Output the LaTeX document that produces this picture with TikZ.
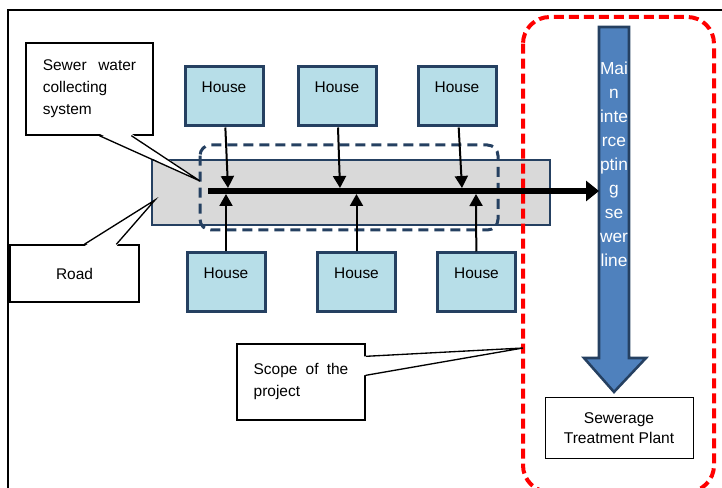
\documentclass[tikz,border=0pt]{standalone}
\usepackage{fontspec}
\setmainfont{Liberation Sans}
\usetikzlibrary{calc,arrows.meta}
\definecolor{houseblue}{HTML}{B7DEE8}
\definecolor{edgeblue}{HTML}{254061}
\definecolor{pipeblue}{HTML}{4F81BD}
\definecolor{roadgray}{HTML}{D9D9D9}

\begin{document}
\begin{tikzpicture}[x=0.75pt,y=-0.75pt,
  house/.style={draw=edgeblue,line width=2.25pt,fill=houseblue,minimum width=58.5pt,minimum height=44.25pt,text height=8pt,text depth=14pt,font=\fontsize{11.6}{13}\selectfont},
  callout/.style={draw,line width=1pt,fill=white,font=\fontsize{11.6}{16.5}\selectfont},
  pipe/.style={line width=1.5pt,-{Triangle[width=9.75pt,length=9pt]}}]
\clip (0,0) rectangle (722,488);

\draw[line width=1.1pt] (8,495) -- (8,10) -- (730,10); % frame

\node[draw=edgeblue,line width=1.9pt,fill=roadgray,minimum width=298.5pt,minimum height=48.75pt] (road) at (351,192.5) {};
\draw[red,line width=3pt,dash pattern=on 7.5pt off 3.75pt,rounded corners=20pt] (523,17) rectangle (714,492); % scope
\draw[edgeblue,line width=2.25pt,dash pattern=on 7.5pt off 4.5pt,rounded corners=8pt] (200,145) rectangle (498,230); % collecting system

\node[house] (ht1) at (224,96.5) {House};
\node[house] (ht2) at (337,96.5) {House};
\node[house] (ht3) at (457,96.5) {House};
\node[house] (hb1) at (226,282.5) {House};
\node[house] (hb2) at (356.5,282.5) {House};
\node[house] (hb3) at (476.5,282.5) {House};

\coordinate (s0) at (208,191);
\coordinate (jt1) at (228,188);
\coordinate (jt2) at (340,188);
\coordinate (jt3) at (462,188);
\coordinate (jb1) at (226,194);
\coordinate (jb2) at (356.5,194);
\coordinate (jb3) at (476,194);

\draw[pipe] (ht1) -- (jt1); % top houses
\draw[pipe] (ht2) -- (jt2);
\draw[pipe] (ht3) -- (jt3);
\draw[pipe] (hb1) -- (jb1); % bottom houses
\draw[pipe] (hb2) -- (jb2);
\draw[pipe] (hb3) -- (jb3);

% main intercepting sewer
\node[minimum width=22.5pt,minimum height=248.25pt,inner sep=0pt,outer sep=0pt] (shaft) at (614,192.5) {};
\draw[edgeblue,line width=1.9pt,fill=pipeblue] (shaft.north west) -- (shaft.south west) -- ++(-15,0) -- ($(shaft.south)+(0,34)$) -- ($(shaft.south east)+(17,0)$) -- (shaft.south east) -- (shaft.north east) -- cycle;
\node[text=white,align=center,font=\fontsize{13}{18}\selectfont] (mainlbl) at (614,164) {Mai\\n\\inte\\rce\\ptin\\g\\se\\wer\\line};

\draw[line width=4.5pt,-{Triangle[width=15pt,length=9.75pt]}] (s0) -- (s0 -| shaft.west);

\node[draw,line width=0.75pt,fill=white,minimum width=111pt,minimum height=45.75pt,align=center,font=\fontsize{11.7}{15}\selectfont] (stp) at (619,428.5) {Sewerage\\Treatment Plant};

% callouts
\coordinate (sewtip) at (200,181);
\coordinate (roadtip) at (155,200);
\coordinate (scopetip) at (523,348);

\node[callout,minimum width=95.25pt,minimum height=69pt,text width=70pt,align=left] (sewer) at (89.5,89) {Sewer\hfill water\\collecting\\system};
\fill[white] ($(sewer.south west)+(74,-2)$) -- (sewtip) -- ($(sewer.south west)+(106,-2)$) -- cycle;
\draw[line width=1pt] ($(sewer.south west)+(74,0)$) -- (sewtip) -- ($(sewer.south west)+(106,0)$);

\node[callout,minimum width=96.75pt,minimum height=42.75pt] (roadlbl) at (74.5,273.5) {Road};
\fill[white] ($(roadlbl.north west)+(75,2)$) -- (roadtip) -- ($(roadlbl.north west)+(107,2)$) -- cycle;
\draw[line width=1pt] ($(roadlbl.north west)+(75,0)$) -- (roadtip) -- ($(roadlbl.north west)+(107,0)$);

\node[callout,minimum width=96pt,minimum height=57pt,text width=71pt,align=left] (scope) at (301,382) {Scope\hfill of\hfill the\\project};
\fill[white] ($(scope.north east)+(-2,13)$) -- (scopetip) -- ($(scope.north east)+(-2,32)$) -- cycle;
\draw[line width=1pt] ($(scope.north east)+(0,13)$) -- (scopetip) -- ($(scope.north east)+(0,32)$);

\end{tikzpicture}
\end{document}
